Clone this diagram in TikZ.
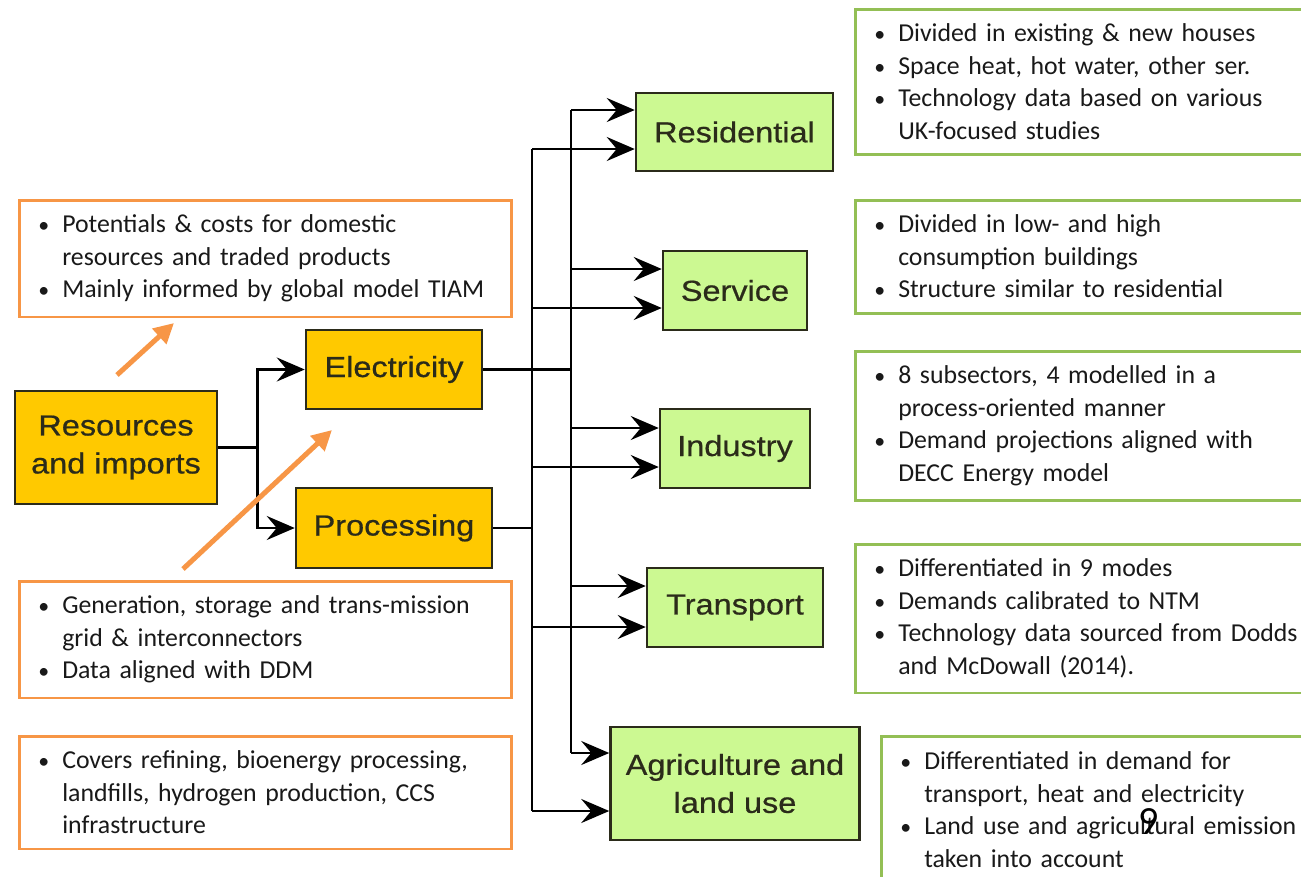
\documentclass[tikz,border=0pt]{standalone}
\usepackage{fontspec}
\usepackage{graphicx}
\setmainfont{Carlito}
\newfontfamily\boxfont[FakeStretch=1.12,FakeBold=0.6]{Liberation Sans}
\usetikzlibrary{arrows.meta,calc}
\definecolor{gold}{HTML}{FFC900}
\definecolor{lgreen}{HTML}{CCF992}
\definecolor{gborder}{HTML}{93BF55}
\definecolor{oborder}{HTML}{F79646}
\definecolor{dark}{HTML}{2B2B1A}
\newcommand{\bul}[1]{\par\hangindent=24pt\hangafter=1\noindent\makebox[24pt][l]{\scalebox{0.85}{\textbullet}}#1\par}
\newcommand{\oneline}[1]{\mbox{#1}}
\newcommand{\notepad}{\par\vspace{15pt}}
\begin{document}
\begin{tikzpicture}[x=1pt,y=-1pt,
  mainbox/.style={draw=dark, line width=2.5pt, inner sep=0pt, align=center, text=dark,
    font=\boxfont\fontsize{29}{38}\selectfont},
  goldbox/.style={mainbox, fill=gold},
  greenbox/.style={mainbox, fill=lgreen},
  note/.style={rectangle, fill=white, line width=2.5pt, inner xsep=19pt, inner ysep=0pt,
    anchor=north west, text=black!90, font=\fontsize{25.8}{32.5}\selectfont,
    execute at end node=\notepad},
  onote/.style={note, draw=oborder},
  gnote/.style={note, draw=gborder},
  conn/.style={line width=2.6pt, black},
  arr/.style={conn, -{Stealth[length=28pt,width=24pt,inset=10pt]}},
  hint/.style={oborder, line width=5pt, -{Triangle[length=20pt,width=20pt]}}
]
\useasboundingbox (0,0) rectangle (1301,876);
\clip (0,0) rectangle (1301,876);
\fill[white] (0,0) rectangle (1301,876);

% main boxes
\node[goldbox, minimum width=202, minimum height=113] (res) at (116,447.5) {Resources\\and imports};
\node[goldbox, minimum width=176, minimum height=79] (elec) at (394,369.5) {Electricity};
\node[goldbox, minimum width=196, minimum height=80] (proc) at (394,528) {Processing};
\node[greenbox, minimum width=197, minimum height=78] (resid) at (734.5,132) {Residential};
\node[greenbox, minimum width=144, minimum height=79] (serv) at (735,290.5) {Service};
\node[greenbox, minimum width=150, minimum height=79] (ind) at (735,448.5) {Industry};
\node[greenbox, minimum width=176, minimum height=79] (trans) at (735,607.5) {Transport};
\node[greenbox, minimum width=249, minimum height=113] (agri) at (735,783.5) {Agriculture and\\land use};

% note boxes
\node[onote, text width=454, minimum height=114] (tA) at (18,199) {\raggedright
  \bul{\oneline{Potentials \& costs for domestic}\newline\oneline{resources and traded products}}
  \bul{\oneline{Mainly informed by global model TIAM}}};
\node[onote, text width=454, minimum height=113] (tB) at (18,580) {\raggedright
  \bul{\oneline{Generation, storage and trans-mission}\newline\oneline{grid \& interconnectors}}
  \bul{\oneline{Data aligned with DDM}}};
\node[onote, text width=454, minimum height=112] (tC) at (18,735) {\raggedright
  \bul{\oneline{Covers refining, bioenergy processing,}\newline\oneline{landfills, hydrogen production, CCS}\newline\oneline{infrastructure}}};
\node[gnote, text width=438, minimum height=145] (t1) at (854,8) {\raggedright
  \bul{\oneline{Divided in existing \& new houses}}
  \bul{\oneline{Space heat, hot water, other ser.}}
  \bul{\oneline{Technology data based on various}\newline\oneline{UK-focused studies}}};
\node[gnote, text width=438, minimum height=113] (t2) at (854,199) {\raggedright
  \bul{\oneline{Divided in low- and high}\newline\oneline{consumption buildings}}
  \bul{\oneline{Structure similar to residential}}};
\node[gnote, text width=438, minimum height=145] (t3) at (854,350) {\raggedright
  \bul{\oneline{8 subsectors, 4 modelled in a}\newline\oneline{process-oriented manner}}
  \bul{\oneline{Demand projections aligned with}\newline\oneline{DECC Energy model}}};
\node[gnote, text width=438, minimum height=145] (t4) at (854,543) {\raggedright
  \bul{\oneline{Differentiated in 9 modes}}
  \bul{\oneline{Demands calibrated to NTM}}
  \bul{\oneline{Technology data sourced from Dodds}\newline\oneline{and McDowall (2014).}}};
\node[gnote, text width=412, minimum height=147] (t5) at (880,735) {\raggedright
  \bul{\oneline{Differentiated in demand for}\newline\oneline{transport, heat and electricity}}
  \bul{\oneline{Land use and agricultural emission}\newline\oneline{taken into account}}};

% resources split
\draw[conn] (res.east) -- ++(39,0) coordinate (j0);
\draw[arr] (j0) |- (elec.west);
\draw[arr] (j0) |- (proc.west);

% electricity trunk (x=571)
\coordinate (eR) at (571,110);
\coordinate (eS) at (571,269);
\coordinate (eI) at (571,428);
\coordinate (eT) at (571,586);
\coordinate (eA) at (571,753);
% processing trunk (x=532)
\coordinate (pR) at (532,149);
\coordinate (pS) at (532,308);
\coordinate (pI) at (532,467);
\coordinate (pT) at (532,627);
\coordinate (pA) at (532,811);

\draw[conn] (elec.east) -- (elec.east -| eR);
\draw[conn] (proc.east) -- (proc.east -| pR);
\draw[conn] (eR) -- (eA);
\draw[conn] (pR) -- (pA);

\draw[arr] (eR) -- (eR -| resid.west);
\draw[arr] (pR) -- (pR -| resid.west);
\draw[arr] (eS) -- (eS -| serv.west);
\draw[arr] (pS) -- (pS -| serv.west);
\draw[arr] (eI) -- (eI -| ind.west);
\draw[arr] (pI) -- (pI -| ind.west);
\draw[arr] (eT) -- (eT -| trans.west);
\draw[arr] (pT) -- (pT -| trans.west);
\draw[arr] (eA) -- (eA -| agri.west);
\draw[arr] (pA) -- (pA -| agri.west);

% orange hint arrows
\coordinate (h1s) at (117,375);
\coordinate (h1e) at (174,323);
\coordinate (h2s) at (183,569);
\coordinate (h2e) at (332,430);
\draw[hint] (h1s) -- (h1e);
\draw[hint] (h2s) -- (h2e);

% slide number
\node[font=\fontsize{40}{40}\selectfont, text=black] (pg) at (1149,822) {9};
\end{tikzpicture}
\end{document}
